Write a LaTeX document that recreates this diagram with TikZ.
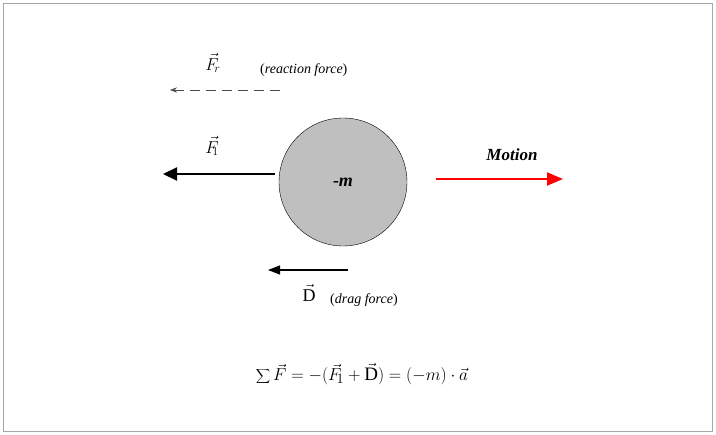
\documentclass[tikz,border=0pt]{standalone}
\usepackage{fontspec}
\setmainfont{Liberation Serif}
\usetikzlibrary{arrows.meta}
\begin{document}
\begin{tikzpicture}[x=1pt,y=-1pt,
  lbl/.style={inner sep=0pt,font=\fontsize{18}{20}\selectfont},
  txt/.style={inner sep=0pt,font=\fontsize{14}{16}\selectfont}]
\useasboundingbox (0,0) rectangle (716,435);
\draw[gray!70,line width=0.8pt] (3,3) rectangle (712,431);
\node[circle,draw=black,fill=black!25,minimum size=128pt,inner sep=0pt,font=\fontsize{18}{20}\selectfont\bfseries\itshape] (m) at (343,182) {-m};
\coordinate (f1s) at (275,174); \coordinate (f1e) at (163,174);
\draw[line width=2pt,-{Triangle[length=14pt,width=13pt]}] (f1s) -- (f1e);
\node[lbl] (f1) at (212,146) {$\vec{F}_{\!\!1}$};
\coordinate (frs) at (280,90); \coordinate (fre) at (170,90);
\draw[black!70,dash pattern=on 10pt off 6pt,-{Stealth[length=7pt]}] (frs) -- (fre);
\node[lbl] (fr) at (213,63) {$\vec{F}_{\!r}$};
\node[txt,anchor=west] (frt) at (260,70) {(\textit{reaction force})};
\coordinate (ms) at (436,179); \coordinate (me) at (563,179);
\draw[red,line width=2pt,-{Triangle[length=16pt,width=13pt]}] (ms) -- (me);
\node[inner sep=0pt,font=\fontsize{17}{20}\selectfont\bfseries\itshape] (mot) at (512,155) {Motion};
\coordinate (ds) at (348,270); \coordinate (de) at (268,270);
\draw[line width=1.2pt,-{Triangle[length=12pt,width=9pt]}] (ds) -- (de);
\node[lbl] (dl) at (309,293) {$\vec{\mathrm{D}}$};
\node[txt,anchor=west] (dt) at (330,300) {(\textit{drag force})};
\node[inner sep=0pt,font=\fontsize{19}{24}\selectfont] (eq) at (362,374) {$\displaystyle\sum\vec{F}=-\Bigl(\vec{F}_{\!1}+\vec{\mathrm{D}}\Bigr)=(-m)\cdot\vec{a}$};
\end{tikzpicture}
\end{document}
